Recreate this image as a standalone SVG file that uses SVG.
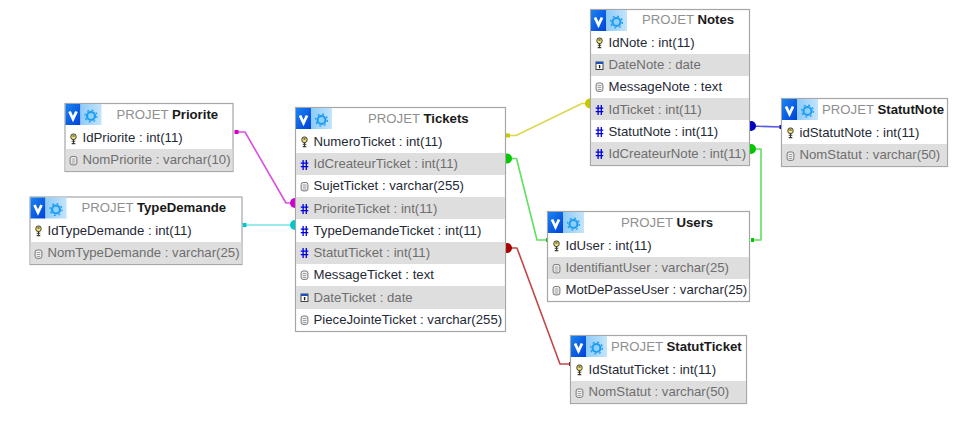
<svg xmlns="http://www.w3.org/2000/svg" width="966" height="421" viewBox="0 0 966 421">
<style>
text{font-family:"Liberation Sans",Arial,sans-serif;font-size:13.2px;fill:#1f2a36}
.box{fill:#fff;stroke:#a6a6a6;stroke-width:1.2}
.alt{fill:#dedede}
.alt-t{fill:#6e6e6e}
.t{fill:#8f8f8f}
.b{font-weight:bold;fill:#1a1a1a}
.c{fill:none;stroke-width:1.6;stroke-linejoin:round}
</style>
<defs>
<linearGradient id="gv" x1="0" y1="0" x2="1" y2="1"><stop offset="0" stop-color="#1a84f0"/><stop offset="1" stop-color="#0040d8"/></linearGradient>
<linearGradient id="gg" x1="0" y1="0" x2="1" y2="0"><stop offset="0" stop-color="#8ccbf8"/><stop offset="1" stop-color="#c4e4fb"/></linearGradient>
<g id="hd">
<rect x="0" y="0" width="15" height="21" fill="url(#gv)"/>
<rect x="15" y="0" width="21" height="21" fill="url(#gg)"/>
<path d="M4 7.500L7.500 15L11 7.500" fill="none" stroke="#fff" stroke-width="2.800"/>
<circle cx="25.500" cy="12" r="4" fill="#8ed0fa" stroke="#1e9cf0" stroke-width="2.200"/>
<circle cx="25.500" cy="12" r="6" fill="none" stroke="#1e9cf0" stroke-width="1.200" stroke-dasharray="2 2.700"/>
</g>
<g id="key">
<rect x="-2.600" y="-5" width="5.200" height="5.500" rx="2.200" fill="#f3e27a" stroke="#3a3a2a" stroke-width="1"/>
<path d="M0 0.500V5M-1.800 2.200H1.800M-1.800 4.600H1.800" stroke="#3a3a2a" stroke-width="1.100" fill="none"/>
<rect x="-1" y="-3.600" width="2" height="1.200" fill="#3a3a2a"/>
</g>
<path id="hash" d="M-1.400-5V5M1.800-5V5M-3.800-1.800H3.800M-3.800 1.600H3.800" stroke="#0000e0" stroke-width="1.300" fill="none"/>
<g id="doc">
<rect x="-3.400" y="-4" width="6.800" height="8.400" rx="2" fill="#f2f2f2" stroke="#777" stroke-width="1"/>
<path d="M-1.800-1.500H1.800M-1.800 0.500H1.800M-1.800 2.500H1.800" stroke="#888" stroke-width=".8"/>
</g>
<g id="cal">
<rect x="-3.500" y="-3.500" width="7" height="7.500" fill="#fff" stroke="#444" stroke-width="1"/>
<rect x="-3.500" y="-3.500" width="7" height="2" fill="#1a50c0"/>
<rect x="-.600" y="-.500" width="1.400" height="3.200" fill="#222"/>
</g>
</defs>
<g id="connectors">
<path class="c" stroke="#dcd84c" d="M507 135.500H516L582 103.500H591"/>
<rect x="506" y="133.500" width="4" height="4" fill="#c8c800"/>
<circle cx="590" cy="103.500" r="5" fill="#c8c800"/>
<path class="c" stroke="#5fe05f" d="M507 158.500H516.500L537 240H548"/>
<circle cx="507" cy="158.500" r="5" fill="#00c800"/>
<rect x="546" y="238" width="2.500" height="4" fill="#00c800"/>
<path class="c" stroke="#dc50dc" d="M236 132H245L286 203H295"/>
<rect x="234.500" y="130" width="4" height="4" fill="#d000d0"/>
<circle cx="295" cy="203" r="5" fill="#d000d0"/>
<path class="c" stroke="#78e6e6" d="M244 225H295"/>
<rect x="242.500" y="223" width="4" height="4" fill="#00c8c8"/>
<circle cx="295" cy="225" r="5" fill="#00c8c8"/>
<path class="c" stroke="#c04848" d="M507 248H517L560 364H571"/>
<circle cx="507" cy="248" r="5" fill="#a80000"/>
<rect x="569" y="362" width="2.500" height="4" fill="#a80000"/>
<path class="c" stroke="#5a5ae0" d="M750 126L781 127"/>
<circle cx="751" cy="126" r="5" fill="#0000c0"/>
<rect x="779.500" y="125" width="2.500" height="4" fill="#0000c0"/>
<path class="c" stroke="#5fe05f" d="M750 149H761V240H751"/>
<circle cx="751" cy="149" r="5" fill="#00c800"/>
<rect x="751" y="238" width="3" height="4" fill="#00c800"/>
</g>
<g id="priorite" transform="translate(64.500 103)">
<rect class="box" x=".5" y=".5" width="168" height="68"/>
<rect class="alt" x="1" y="46" width="167" height="22"/>
<use href="#hd" x="1" y="1"/>
<text x="52" y="15.500" class="t">PROJET <tspan class="b">Priorite</tspan></text>
<use href="#key" x="9" y="36"/><text x="18" y="39">IdPriorite : int(11)</text>
<use href="#doc" x="9" y="57.500"/><text x="18" y="61" class="alt-t">NomPriorite : varchar(10)</text>
</g>
<g id="typedemande" transform="translate(29.500 196.500)">
<rect class="box" x=".5" y=".5" width="212" height="67.500"/>
<rect class="alt" x="1" y="45.500" width="211" height="22"/>
<use href="#hd" x="1" y="1"/>
<text x="52" y="15.500" class="t">PROJET <tspan class="b">TypeDemande</tspan></text>
<use href="#key" x="9" y="34.500"/><text x="18" y="38.500">IdTypeDemande : int(11)</text>
<use href="#doc" x="9" y="57.500"/><text x="18" y="60.500" class="alt-t">NomTypeDemande : varchar(25)</text>
</g>
<g id="tickets" transform="translate(295 107)">
<rect class="box" x=".5" y=".5" width="210" height="224"/>
<rect class="alt" x="1" y="46" width="209" height="22"/>
<rect class="alt" x="1" y="90" width="209" height="22"/>
<rect class="alt" x="1" y="135" width="209" height="22"/>
<rect class="alt" x="1" y="179" width="209" height="23"/>
<use href="#hd" x="1" y="1"/>
<text x="73" y="16" class="t">PROJET <tspan class="b">Tickets</tspan></text>
<use href="#key" x="9.500" y="35"/><text x="18.500" y="39">NumeroTicket : int(11)</text>
<use href="#hash" x="9.500" y="58"/><text x="18.500" y="61" class="alt-t">IdCreateurTicket : int(11)</text>
<use href="#doc" x="9.500" y="79.500"/><text x="18.500" y="83">SujetTicket : varchar(255)</text>
<use href="#hash" x="9.500" y="102"/><text x="18.500" y="106" class="alt-t">PrioriteTicket : int(11)</text>
<use href="#hash" x="9.500" y="124"/><text x="18.500" y="128">TypeDemandeTicket : int(11)</text>
<use href="#hash" x="9.500" y="146"/><text x="18.500" y="150" class="alt-t">StatutTicket : int(11)</text>
<use href="#doc" x="9.500" y="168"/><text x="18.500" y="172">MessageTicket : text</text>
<use href="#cal" x="9.500" y="190.500"/><text x="18.500" y="195" class="alt-t">DateTicket : date</text>
<use href="#doc" x="9.500" y="213"/><text x="18.500" y="217">PieceJointeTicket : varchar(255)</text>
</g>
<g id="notes" transform="translate(590 9)">
<rect class="box" x=".5" y=".5" width="159" height="156"/>
<rect class="alt" x="1" y="45" width="158" height="22"/>
<rect class="alt" x="1" y="89" width="158" height="22"/>
<rect class="alt" x="1" y="133" width="158" height="23"/>
<use href="#hd" x="1" y="1"/>
<text x="52" y="15" class="t">PROJET <tspan class="b">Notes</tspan></text>
<use href="#key" x="9.500" y="34"/><text x="18.500" y="38">IdNote : int(11)</text>
<use href="#cal" x="9.500" y="56.500"/><text x="18.500" y="60" class="alt-t">DateNote : date</text>
<use href="#doc" x="9.500" y="78"/><text x="18.500" y="82">MessageNote : text</text>
<use href="#hash" x="9.500" y="101"/><text x="18.500" y="105" class="alt-t">IdTicket : int(11)</text>
<use href="#hash" x="9.500" y="123"/><text x="18.500" y="127">StatutNote : int(11)</text>
<use href="#hash" x="9.500" y="145"/><text x="18.500" y="149" class="alt-t">IdCreateurNote : int(11)</text>
</g>
<g id="statutnote" transform="translate(781 98)">
<rect class="box" x=".5" y=".5" width="166" height="68"/>
<rect class="alt" x="1" y="46" width="165" height="22"/>
<use href="#hd" x="1" y="1"/>
<text x="41" y="16" class="t">PROJET <tspan class="b">StatutNote</tspan></text>
<use href="#key" x="9.500" y="35"/><text x="18.500" y="39">idStatutNote : int(11)</text>
<use href="#doc" x="9.500" y="58"/><text x="18.500" y="61" class="alt-t">NomStatut : varchar(50)</text>
</g>
<g id="users" transform="translate(547 211)">
<rect class="box" x=".5" y=".5" width="202" height="90"/>
<rect class="alt" x="1" y="46" width="201" height="22"/>
<use href="#hd" x="1" y="1"/>
<text x="74" y="16" class="t">PROJET <tspan class="b">Users</tspan></text>
<use href="#key" x="9.500" y="35"/><text x="18.500" y="39">IdUser : int(11)</text>
<use href="#doc" x="9.500" y="57.500"/><text x="18.500" y="61" class="alt-t">IdentifiantUser : varchar(25)</text>
<use href="#doc" x="9.500" y="79.500"/><text x="18.500" y="83">MotDePasseUser : varchar(25)</text>
</g>
<g id="statutticket" transform="translate(570 335)">
<rect class="box" x=".5" y=".5" width="176" height="68"/>
<rect class="alt" x="1" y="46" width="175" height="22"/>
<use href="#hd" x="1" y="1"/>
<text x="41" y="16" class="t">PROJET <tspan class="b">StatutTicket</tspan></text>
<use href="#key" x="9.500" y="35"/><text x="18.500" y="39">IdStatutTicket : int(11)</text>
<use href="#doc" x="9.500" y="58"/><text x="18.500" y="61" class="alt-t">NomStatut : varchar(50)</text>
</g>
</svg>
